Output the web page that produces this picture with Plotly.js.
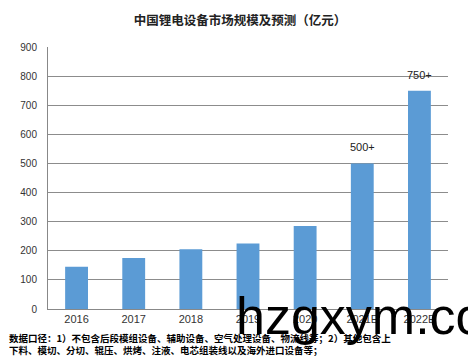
<!DOCTYPE html>
<html>
<head>
<meta charset="utf-8">
<script src="https://cdn.plot.ly/plotly-3.0.1.min.js"></script>
<style>html,body{margin:0;padding:0;background:#fff;}#chart{width:468px;height:361px;}</style>
</head>
<body>
<div id="chart"></div>
<script>
const categories = ['2016', '2017', '2018', '2019', '2020', '2021E', '2022E'];
const marketSize = [145, 175, 205, 225, 285, 500, 750];
const barLabels = ['', '', '', '', '', '500+', '750+'];
const titleText = '中国锂电设备市场规模及预测（亿元）';
const noteText = '<b>数据口径：1）不包含后段模组设备、辅助设备、空气处理设备、物流线等；2）其他包含上<br>下料、模切、分切、辊压、烘烤、注液、电芯组装线以及海外进口设备等；</b>';
const watermark = 'hzgxym.com';

const annotations = [];
categories.forEach((c, i) => {
  if (barLabels[i]) {
    annotations.push({
      x: c, y: marketSize[i], xref: 'x', yref: 'y',
      text: barLabels[i], showarrow: false, yanchor: 'bottom', yshift: 8,
      font: {family: 'Liberation Sans, Arial, sans-serif', size: 11, color: '#222'}
    });
  }
});
annotations.push({
  xref: 'paper', yref: 'paper', x: -0.1025, y: -0.077, xanchor: 'left', yanchor: 'top', align: 'left',
  text: noteText, showarrow: false,
  font: {family: 'Noto Sans CJK SC, sans-serif', size: 9.5, color: '#000'}
});
annotations.push({
  xref: 'paper', yref: 'paper', x: 0.465, y: -0.025, xanchor: 'left', yanchor: 'middle',
  text: watermark, showarrow: false,
  font: {family: 'Liberation Sans, Arial, sans-serif', size: 52, color: '#000'}
});

const data = [{
  type: 'bar', x: categories, y: marketSize,
  marker: {color: '#5B9BD5'}, hoverinfo: 'none'
}];

const layout = {
  width: 468, height: 361,
  margin: {l: 48, r: 20, t: 47, b: 52},
  paper_bgcolor: '#fff', plot_bgcolor: '#fff',
  bargap: 0.6,
  showlegend: false,
  title: {text: '<b>' + titleText + '</b>', x: 0.513, xanchor: 'center', y: 0.942, yanchor: 'middle',
    font: {family: 'Noto Sans CJK SC, sans-serif', size: 12.5, color: '#222'}},
  xaxis: {
    type: 'category', showline: true, linecolor: '#888', linewidth: 1,
    ticks: '', tickfont: {family: 'Liberation Sans, Arial, sans-serif', size: 11, color: '#333'},
    showgrid: false, fixedrange: true
  },
  yaxis: {
    range: [0, 900], dtick: 100, showline: true, linecolor: '#888', linewidth: 1,
    gridcolor: '#8c8c8c', gridwidth: 1, zeroline: false, ticks: '',
    tickfont: {family: 'Liberation Sans, Arial, sans-serif', size: 10, color: '#333'},
    ticklabelstandoff: 8, fixedrange: true
  },
  annotations: annotations
};

Plotly.newPlot('chart', data, layout, {staticPlot: true, displayModeBar: false});
</script>
</body>
</html>
